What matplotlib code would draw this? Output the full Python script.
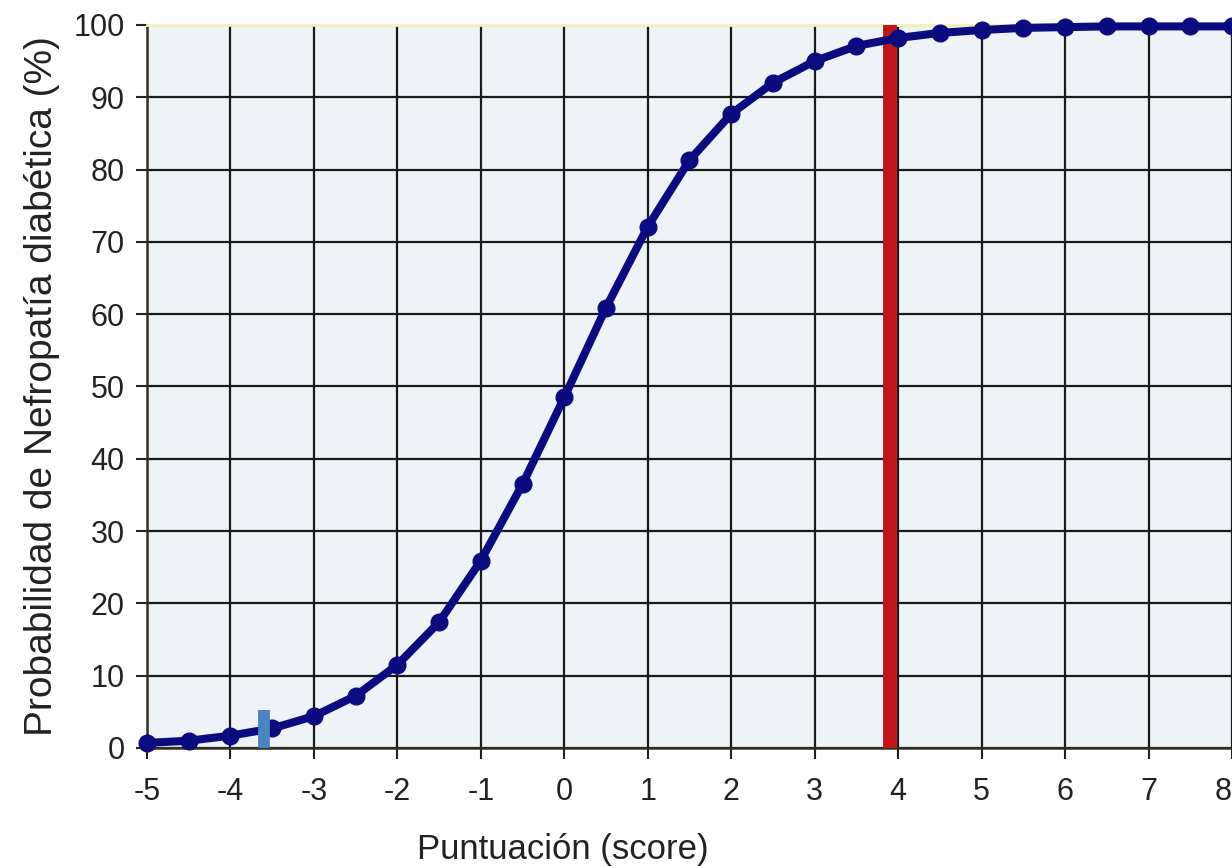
import matplotlib
matplotlib.use("Agg")
import matplotlib.pyplot as plt

plt.rcParams['font.family'] = ['Liberation Sans', 'DejaVu Sans']

score = [-5, -4.5, -4, -3.5, -3, -2.5, -2, -1.5, -1, -0.5, 0, 0.5, 1, 1.5, 2, 2.5,
         3, 3.5, 4, 4.5, 5, 5.5, 6, 6.5, 7, 7.5, 8]
prob = [0.7, 1.0, 1.7, 2.7, 4.4, 7.2, 11.5, 17.4, 25.9, 36.5, 48.5, 60.9, 72.1, 81.3,
        87.7, 92.0, 95.0, 97.1, 98.2, 98.9, 99.3, 99.6, 99.7, 99.8, 99.8, 99.8, 99.8]
x_ticks = [-5, -4, -3, -2, -1, 0, 1, 2, 3, 4, 5, 6, 7, 8]
y_ticks = [0, 10, 20, 30, 40, 50, 60, 70, 80, 90, 100]
red_x = 3.9
blue_x = -3.6
blue_top = 5.2

fig = plt.figure(figsize=(12.32, 8.67), dpi=100)
ax = fig.add_axes([0.1193, 0.1373, 0.8807, 0.8339])
ax.set_facecolor('#eef3f8')
ax.set_xlim(-5, 8)
ax.set_ylim(0, 100)
ax.set_xticks(x_ticks)
ax.set_yticks(y_ticks)
ax.grid(True, color='#1a1a1a', linewidth=1.6, zorder=1)
ax.set_axisbelow(True)

ax.plot(score, prob, color='#0b0b80', linewidth=5.8, marker='o', markersize=12,
        zorder=4, clip_on=False)
ax.plot([red_x, red_x], [0, 100], color='#c0161b', linewidth=10, solid_capstyle='butt', zorder=3)
ax.plot([blue_x, blue_x], [0, blue_top], color='#4a84c0', linewidth=8.5, solid_capstyle='butt', zorder=5)

ax.spines['right'].set_visible(False)
ax.spines['top'].set_color('#f2f2b8')
ax.spines['top'].set_linewidth(2)
for s in ['left', 'bottom']:
    ax.spines[s].set_color('#333322')
    ax.spines[s].set_linewidth(1.8)

ax.tick_params(axis='both', labelsize=22, colors='#222222', length=8, width=1.5, direction='out')
ax.tick_params(axis='x', pad=13)
ax.tick_params(axis='y', pad=8)
ax.set_xticklabels([str(v) for v in x_ticks])
for lbl in ax.get_xticklabels():
    if lbl.get_text() == '8':
        lbl.set_horizontalalignment('right')

ax.set_xlabel('Puntuación (score)', fontsize=25, color='#222222')
ax.xaxis.set_label_coords(0.383, -0.118)
ax.set_ylabel('Probabilidad de Nefropatía diabética (%)', fontsize=28, color='#222222', labelpad=10)

fig.savefig('out.png', dpi=100)
